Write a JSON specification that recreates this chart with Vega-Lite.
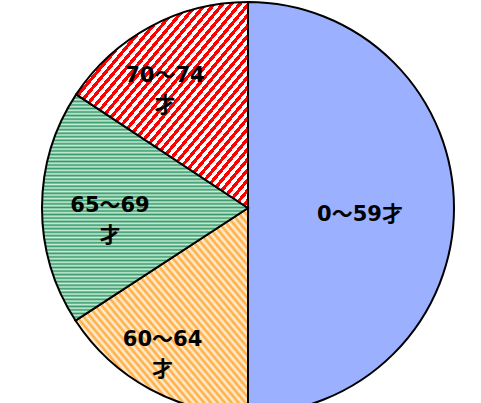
{
  "$schema": "https://vega.github.io/schema/vega-lite/v6.json",
  "width": 481,
  "height": 403,
  "autosize": {"type": "fit", "contains": "padding"},
  "padding": {"left": 15, "top": 13, "right": 0, "bottom": 0},
  "background": "#ffffff",
  "config": {"view": {"stroke": null}},
  "data": {
    "values": [
      {"age": "0～59才", "label": "0～59才", "value": 50.0},
      {"age": "60～64才", "label": "60～64\n才", "value": 15.8},
      {"age": "65～69才", "label": "65～69\n才", "value": 18.5},
      {"age": "70～74才", "label": "70～74\n才", "value": 15.7}
    ]
  },
  "encoding": {
    "theta": {"field": "value", "type": "quantitative", "stack": true}
  },
  "layer": [
    {
      "mark": {"type": "arc", "outerRadius": 206, "stroke": "#000000", "strokeWidth": 2},
      "encoding": {
        "fill": {
          "condition": [
            {"test": "datum.age === '70～74才'", "value": {"gradient": "linear", "x1": 0, "y1": 0, "x2": 1, "y2": 1, "stops": [
              {"offset":0,"color":"#f00"},
              {"offset":0.0125,"color":"#f00"},{"offset":0.0125,"color":"#fff"},
              {"offset":0.025,"color":"#fff"},{"offset":0.025,"color":"#f00"},
              {"offset":0.0375,"color":"#f00"},{"offset":0.0375,"color":"#fff"},
              {"offset":0.05,"color":"#fff"},{"offset":0.05,"color":"#f00"},
              {"offset":0.0625,"color":"#f00"},{"offset":0.0625,"color":"#fff"},
              {"offset":0.075,"color":"#fff"},{"offset":0.075,"color":"#f00"},
              {"offset":0.0875,"color":"#f00"},{"offset":0.0875,"color":"#fff"},
              {"offset":0.1,"color":"#fff"},{"offset":0.1,"color":"#f00"},
              {"offset":0.1125,"color":"#f00"},{"offset":0.1125,"color":"#fff"},
              {"offset":0.125,"color":"#fff"},{"offset":0.125,"color":"#f00"},
              {"offset":0.1375,"color":"#f00"},{"offset":0.1375,"color":"#fff"},
              {"offset":0.15,"color":"#fff"},{"offset":0.15,"color":"#f00"},
              {"offset":0.1625,"color":"#f00"},{"offset":0.1625,"color":"#fff"},
              {"offset":0.175,"color":"#fff"},{"offset":0.175,"color":"#f00"},
              {"offset":0.1875,"color":"#f00"},{"offset":0.1875,"color":"#fff"},
              {"offset":0.2,"color":"#fff"},{"offset":0.2,"color":"#f00"},
              {"offset":0.2125,"color":"#f00"},{"offset":0.2125,"color":"#fff"},
              {"offset":0.225,"color":"#fff"},{"offset":0.225,"color":"#f00"},
              {"offset":0.2375,"color":"#f00"},{"offset":0.2375,"color":"#fff"},
              {"offset":0.25,"color":"#fff"},{"offset":0.25,"color":"#f00"},
              {"offset":0.2625,"color":"#f00"},{"offset":0.2625,"color":"#fff"},
              {"offset":0.275,"color":"#fff"},{"offset":0.275,"color":"#f00"},
              {"offset":0.2875,"color":"#f00"},{"offset":0.2875,"color":"#fff"},
              {"offset":0.3,"color":"#fff"},{"offset":0.3,"color":"#f00"},
              {"offset":0.3125,"color":"#f00"},{"offset":0.3125,"color":"#fff"},
              {"offset":0.325,"color":"#fff"},{"offset":0.325,"color":"#f00"},
              {"offset":0.3375,"color":"#f00"},{"offset":0.3375,"color":"#fff"},
              {"offset":0.35,"color":"#fff"},{"offset":0.35,"color":"#f00"},
              {"offset":0.3625,"color":"#f00"},{"offset":0.3625,"color":"#fff"},
              {"offset":0.375,"color":"#fff"},{"offset":0.375,"color":"#f00"},
              {"offset":0.3875,"color":"#f00"},{"offset":0.3875,"color":"#fff"},
              {"offset":0.4,"color":"#fff"},{"offset":0.4,"color":"#f00"},
              {"offset":0.4125,"color":"#f00"},{"offset":0.4125,"color":"#fff"},
              {"offset":0.425,"color":"#fff"},{"offset":0.425,"color":"#f00"},
              {"offset":0.4375,"color":"#f00"},{"offset":0.4375,"color":"#fff"},
              {"offset":0.45,"color":"#fff"},{"offset":0.45,"color":"#f00"},
              {"offset":0.4625,"color":"#f00"},{"offset":0.4625,"color":"#fff"},
              {"offset":0.475,"color":"#fff"},{"offset":0.475,"color":"#f00"},
              {"offset":0.4875,"color":"#f00"},{"offset":0.4875,"color":"#fff"},
              {"offset":0.5,"color":"#fff"},{"offset":0.5,"color":"#f00"},
              {"offset":0.5125,"color":"#f00"},{"offset":0.5125,"color":"#fff"},
              {"offset":0.525,"color":"#fff"},{"offset":0.525,"color":"#f00"},
              {"offset":0.5375,"color":"#f00"},{"offset":0.5375,"color":"#fff"},
              {"offset":0.55,"color":"#fff"},{"offset":0.55,"color":"#f00"},
              {"offset":0.5625,"color":"#f00"},{"offset":0.5625,"color":"#fff"},
              {"offset":0.575,"color":"#fff"},{"offset":0.575,"color":"#f00"},
              {"offset":0.5875,"color":"#f00"},{"offset":0.5875,"color":"#fff"},
              {"offset":0.6,"color":"#fff"},{"offset":0.6,"color":"#f00"},
              {"offset":0.6125,"color":"#f00"},{"offset":0.6125,"color":"#fff"},
              {"offset":0.625,"color":"#fff"},{"offset":0.625,"color":"#f00"},
              {"offset":0.6375,"color":"#f00"},{"offset":0.6375,"color":"#fff"},
              {"offset":0.65,"color":"#fff"},{"offset":0.65,"color":"#f00"},
              {"offset":0.6625,"color":"#f00"},{"offset":0.6625,"color":"#fff"},
              {"offset":0.675,"color":"#fff"},{"offset":0.675,"color":"#f00"},
              {"offset":0.6875,"color":"#f00"},{"offset":0.6875,"color":"#fff"},
              {"offset":0.7,"color":"#fff"},{"offset":0.7,"color":"#f00"},
              {"offset":0.7125,"color":"#f00"},{"offset":0.7125,"color":"#fff"},
              {"offset":0.725,"color":"#fff"},{"offset":0.725,"color":"#f00"},
              {"offset":0.7375,"color":"#f00"},{"offset":0.7375,"color":"#fff"},
              {"offset":0.75,"color":"#fff"},{"offset":0.75,"color":"#f00"},
              {"offset":0.7625,"color":"#f00"},{"offset":0.7625,"color":"#fff"},
              {"offset":0.775,"color":"#fff"},{"offset":0.775,"color":"#f00"},
              {"offset":0.7875,"color":"#f00"},{"offset":0.7875,"color":"#fff"},
              {"offset":0.8,"color":"#fff"},{"offset":0.8,"color":"#f00"},
              {"offset":0.8125,"color":"#f00"},{"offset":0.8125,"color":"#fff"},
              {"offset":0.825,"color":"#fff"},{"offset":0.825,"color":"#f00"},
              {"offset":0.8375,"color":"#f00"},{"offset":0.8375,"color":"#fff"},
              {"offset":0.85,"color":"#fff"},{"offset":0.85,"color":"#f00"},
              {"offset":0.8625,"color":"#f00"},{"offset":0.8625,"color":"#fff"},
              {"offset":0.875,"color":"#fff"},{"offset":0.875,"color":"#f00"},
              {"offset":0.8875,"color":"#f00"},{"offset":0.8875,"color":"#fff"},
              {"offset":0.9,"color":"#fff"},{"offset":0.9,"color":"#f00"},
              {"offset":0.9125,"color":"#f00"},{"offset":0.9125,"color":"#fff"},
              {"offset":0.925,"color":"#fff"},{"offset":0.925,"color":"#f00"},
              {"offset":0.9375,"color":"#f00"},{"offset":0.9375,"color":"#fff"},
              {"offset":0.95,"color":"#fff"},{"offset":0.95,"color":"#f00"},
              {"offset":0.9625,"color":"#f00"},{"offset":0.9625,"color":"#fff"},
              {"offset":0.975,"color":"#fff"},{"offset":0.975,"color":"#f00"},
              {"offset":0.9875,"color":"#f00"},{"offset":0.9875,"color":"#fff"},
              {"offset":1,"color":"#fff"}
            ]}},
            {"test": "datum.age === '65～69才'", "value": {"gradient": "linear", "x1": 0, "y1": 0, "x2": 0, "y2": 1, "stops": [
              {"offset":0,"color":"#339966"},{"offset":0.0078,"color":"#cdeedd"},{"offset":0.0156,"color":"#339966"},{"offset":0.0234,"color":"#cdeedd"},
              {"offset":0.0313,"color":"#339966"},{"offset":0.0391,"color":"#cdeedd"},{"offset":0.0469,"color":"#339966"},{"offset":0.0547,"color":"#cdeedd"},
              {"offset":0.0625,"color":"#339966"},{"offset":0.0703,"color":"#cdeedd"},{"offset":0.0781,"color":"#339966"},{"offset":0.0859,"color":"#cdeedd"},
              {"offset":0.0938,"color":"#339966"},{"offset":0.1016,"color":"#cdeedd"},{"offset":0.1094,"color":"#339966"},{"offset":0.1172,"color":"#cdeedd"},
              {"offset":0.125,"color":"#339966"},{"offset":0.1328,"color":"#cdeedd"},{"offset":0.1406,"color":"#339966"},{"offset":0.1484,"color":"#cdeedd"},
              {"offset":0.1563,"color":"#339966"},{"offset":0.1641,"color":"#cdeedd"},{"offset":0.1719,"color":"#339966"},{"offset":0.1797,"color":"#cdeedd"},
              {"offset":0.1875,"color":"#339966"},{"offset":0.1953,"color":"#cdeedd"},{"offset":0.2031,"color":"#339966"},{"offset":0.2109,"color":"#cdeedd"},
              {"offset":0.2188,"color":"#339966"},{"offset":0.2266,"color":"#cdeedd"},{"offset":0.2344,"color":"#339966"},{"offset":0.2422,"color":"#cdeedd"},
              {"offset":0.25,"color":"#339966"},{"offset":0.2578,"color":"#cdeedd"},{"offset":0.2656,"color":"#339966"},{"offset":0.2734,"color":"#cdeedd"},
              {"offset":0.2813,"color":"#339966"},{"offset":0.2891,"color":"#cdeedd"},{"offset":0.2969,"color":"#339966"},{"offset":0.3047,"color":"#cdeedd"},
              {"offset":0.3125,"color":"#339966"},{"offset":0.3203,"color":"#cdeedd"},{"offset":0.3281,"color":"#339966"},{"offset":0.3359,"color":"#cdeedd"},
              {"offset":0.3438,"color":"#339966"},{"offset":0.3516,"color":"#cdeedd"},{"offset":0.3594,"color":"#339966"},{"offset":0.3672,"color":"#cdeedd"},
              {"offset":0.375,"color":"#339966"},{"offset":0.3828,"color":"#cdeedd"},{"offset":0.3906,"color":"#339966"},{"offset":0.3984,"color":"#cdeedd"},
              {"offset":0.4063,"color":"#339966"},{"offset":0.4141,"color":"#cdeedd"},{"offset":0.4219,"color":"#339966"},{"offset":0.4297,"color":"#cdeedd"},
              {"offset":0.4375,"color":"#339966"},{"offset":0.4453,"color":"#cdeedd"},{"offset":0.4531,"color":"#339966"},{"offset":0.4609,"color":"#cdeedd"},
              {"offset":0.4688,"color":"#339966"},{"offset":0.4766,"color":"#cdeedd"},{"offset":0.4844,"color":"#339966"},{"offset":0.4922,"color":"#cdeedd"},
              {"offset":0.5,"color":"#339966"},{"offset":0.5078,"color":"#cdeedd"},{"offset":0.5156,"color":"#339966"},{"offset":0.5234,"color":"#cdeedd"},
              {"offset":0.5313,"color":"#339966"},{"offset":0.5391,"color":"#cdeedd"},{"offset":0.5469,"color":"#339966"},{"offset":0.5547,"color":"#cdeedd"},
              {"offset":0.5625,"color":"#339966"},{"offset":0.5703,"color":"#cdeedd"},{"offset":0.5781,"color":"#339966"},{"offset":0.5859,"color":"#cdeedd"},
              {"offset":0.5938,"color":"#339966"},{"offset":0.6016,"color":"#cdeedd"},{"offset":0.6094,"color":"#339966"},{"offset":0.6172,"color":"#cdeedd"},
              {"offset":0.625,"color":"#339966"},{"offset":0.6328,"color":"#cdeedd"},{"offset":0.6406,"color":"#339966"},{"offset":0.6484,"color":"#cdeedd"},
              {"offset":0.6563,"color":"#339966"},{"offset":0.6641,"color":"#cdeedd"},{"offset":0.6719,"color":"#339966"},{"offset":0.6797,"color":"#cdeedd"},
              {"offset":0.6875,"color":"#339966"},{"offset":0.6953,"color":"#cdeedd"},{"offset":0.7031,"color":"#339966"},{"offset":0.7109,"color":"#cdeedd"},
              {"offset":0.7188,"color":"#339966"},{"offset":0.7266,"color":"#cdeedd"},{"offset":0.7344,"color":"#339966"},{"offset":0.7422,"color":"#cdeedd"},
              {"offset":0.75,"color":"#339966"},{"offset":0.7578,"color":"#cdeedd"},{"offset":0.7656,"color":"#339966"},{"offset":0.7734,"color":"#cdeedd"},
              {"offset":0.7813,"color":"#339966"},{"offset":0.7891,"color":"#cdeedd"},{"offset":0.7969,"color":"#339966"},{"offset":0.8047,"color":"#cdeedd"},
              {"offset":0.8125,"color":"#339966"},{"offset":0.8203,"color":"#cdeedd"},{"offset":0.8281,"color":"#339966"},{"offset":0.8359,"color":"#cdeedd"},
              {"offset":0.8438,"color":"#339966"},{"offset":0.8516,"color":"#cdeedd"},{"offset":0.8594,"color":"#339966"},{"offset":0.8672,"color":"#cdeedd"},
              {"offset":0.875,"color":"#339966"},{"offset":0.8828,"color":"#cdeedd"},{"offset":0.8906,"color":"#339966"},{"offset":0.8984,"color":"#cdeedd"},
              {"offset":0.9063,"color":"#339966"},{"offset":0.9141,"color":"#cdeedd"},{"offset":0.9219,"color":"#339966"},{"offset":0.9297,"color":"#cdeedd"},
              {"offset":0.9375,"color":"#339966"},{"offset":0.9453,"color":"#cdeedd"},{"offset":0.9531,"color":"#339966"},{"offset":0.9609,"color":"#cdeedd"},
              {"offset":0.9688,"color":"#339966"},{"offset":0.9766,"color":"#cdeedd"},{"offset":0.9844,"color":"#339966"},{"offset":0.9922,"color":"#cdeedd"},
              {"offset":1,"color":"#339966"}
            ]}},
            {"test": "datum.age === '60～64才'", "value": {"gradient": "linear", "x1": 1, "y1": 0, "x2": 0, "y2": 1, "stops": [
              {"offset":0,"color":"#ffa733"},{"offset":0.01,"color":"#fff4e2"},{"offset":0.02,"color":"#ffa733"},{"offset":0.03,"color":"#fff4e2"},
              {"offset":0.04,"color":"#ffa733"},{"offset":0.05,"color":"#fff4e2"},{"offset":0.06,"color":"#ffa733"},{"offset":0.07,"color":"#fff4e2"},
              {"offset":0.08,"color":"#ffa733"},{"offset":0.09,"color":"#fff4e2"},{"offset":0.1,"color":"#ffa733"},{"offset":0.11,"color":"#fff4e2"},
              {"offset":0.12,"color":"#ffa733"},{"offset":0.13,"color":"#fff4e2"},{"offset":0.14,"color":"#ffa733"},{"offset":0.15,"color":"#fff4e2"},
              {"offset":0.16,"color":"#ffa733"},{"offset":0.17,"color":"#fff4e2"},{"offset":0.18,"color":"#ffa733"},{"offset":0.19,"color":"#fff4e2"},
              {"offset":0.2,"color":"#ffa733"},{"offset":0.21,"color":"#fff4e2"},{"offset":0.22,"color":"#ffa733"},{"offset":0.23,"color":"#fff4e2"},
              {"offset":0.24,"color":"#ffa733"},{"offset":0.25,"color":"#fff4e2"},{"offset":0.26,"color":"#ffa733"},{"offset":0.27,"color":"#fff4e2"},
              {"offset":0.28,"color":"#ffa733"},{"offset":0.29,"color":"#fff4e2"},{"offset":0.3,"color":"#ffa733"},{"offset":0.31,"color":"#fff4e2"},
              {"offset":0.32,"color":"#ffa733"},{"offset":0.33,"color":"#fff4e2"},{"offset":0.34,"color":"#ffa733"},{"offset":0.35,"color":"#fff4e2"},
              {"offset":0.36,"color":"#ffa733"},{"offset":0.37,"color":"#fff4e2"},{"offset":0.38,"color":"#ffa733"},{"offset":0.39,"color":"#fff4e2"},
              {"offset":0.4,"color":"#ffa733"},{"offset":0.41,"color":"#fff4e2"},{"offset":0.42,"color":"#ffa733"},{"offset":0.43,"color":"#fff4e2"},
              {"offset":0.44,"color":"#ffa733"},{"offset":0.45,"color":"#fff4e2"},{"offset":0.46,"color":"#ffa733"},{"offset":0.47,"color":"#fff4e2"},
              {"offset":0.48,"color":"#ffa733"},{"offset":0.49,"color":"#fff4e2"},{"offset":0.5,"color":"#ffa733"},{"offset":0.51,"color":"#fff4e2"},
              {"offset":0.52,"color":"#ffa733"},{"offset":0.53,"color":"#fff4e2"},{"offset":0.54,"color":"#ffa733"},{"offset":0.55,"color":"#fff4e2"},
              {"offset":0.56,"color":"#ffa733"},{"offset":0.57,"color":"#fff4e2"},{"offset":0.58,"color":"#ffa733"},{"offset":0.59,"color":"#fff4e2"},
              {"offset":0.6,"color":"#ffa733"},{"offset":0.61,"color":"#fff4e2"},{"offset":0.62,"color":"#ffa733"},{"offset":0.63,"color":"#fff4e2"},
              {"offset":0.64,"color":"#ffa733"},{"offset":0.65,"color":"#fff4e2"},{"offset":0.66,"color":"#ffa733"},{"offset":0.67,"color":"#fff4e2"},
              {"offset":0.68,"color":"#ffa733"},{"offset":0.69,"color":"#fff4e2"},{"offset":0.7,"color":"#ffa733"},{"offset":0.71,"color":"#fff4e2"},
              {"offset":0.72,"color":"#ffa733"},{"offset":0.73,"color":"#fff4e2"},{"offset":0.74,"color":"#ffa733"},{"offset":0.75,"color":"#fff4e2"},
              {"offset":0.76,"color":"#ffa733"},{"offset":0.77,"color":"#fff4e2"},{"offset":0.78,"color":"#ffa733"},{"offset":0.79,"color":"#fff4e2"},
              {"offset":0.8,"color":"#ffa733"},{"offset":0.81,"color":"#fff4e2"},{"offset":0.82,"color":"#ffa733"},{"offset":0.83,"color":"#fff4e2"},
              {"offset":0.84,"color":"#ffa733"},{"offset":0.85,"color":"#fff4e2"},{"offset":0.86,"color":"#ffa733"},{"offset":0.87,"color":"#fff4e2"},
              {"offset":0.88,"color":"#ffa733"},{"offset":0.89,"color":"#fff4e2"},{"offset":0.9,"color":"#ffa733"},{"offset":0.91,"color":"#fff4e2"},
              {"offset":0.92,"color":"#ffa733"},{"offset":0.93,"color":"#fff4e2"},{"offset":0.94,"color":"#ffa733"},{"offset":0.95,"color":"#fff4e2"},
              {"offset":0.96,"color":"#ffa733"},{"offset":0.97,"color":"#fff4e2"},{"offset":0.98,"color":"#ffa733"},{"offset":0.99,"color":"#fff4e2"},
              {"offset":1,"color":"#ffa733"}
            ]}}
          ],
          "value": "#9bb0ff"
        }
      }
    },
    {
      "mark": {
        "type": "text",
        "radius": {"expr": "datum.age === '0～59才' ? 110 : datum.age === '65～69才' ? 138 : 150"},
        "dx": {"expr": "datum.age === '0～59才' ? 2 : datum.age === '60～64才' ? -14 : datum.age === '70～74才' ? -12 : 0"},
        "dy": {"expr": "datum.age === '0～59才' ? 7 : datum.age === '65～69才' ? -2 : 0"},
        "font": "DejaVu Sans, Noto Sans CJK JP",
        "fontWeight": "bold",
        "fontSize": 21,
        "lineBreak": "\n",
        "lineHeight": 30,
        "align": "center",
        "baseline": "middle",
        "color": "#000000"
      },
      "encoding": {
        "text": {"field": "label", "type": "nominal"}
      }
    }
  ]
}
